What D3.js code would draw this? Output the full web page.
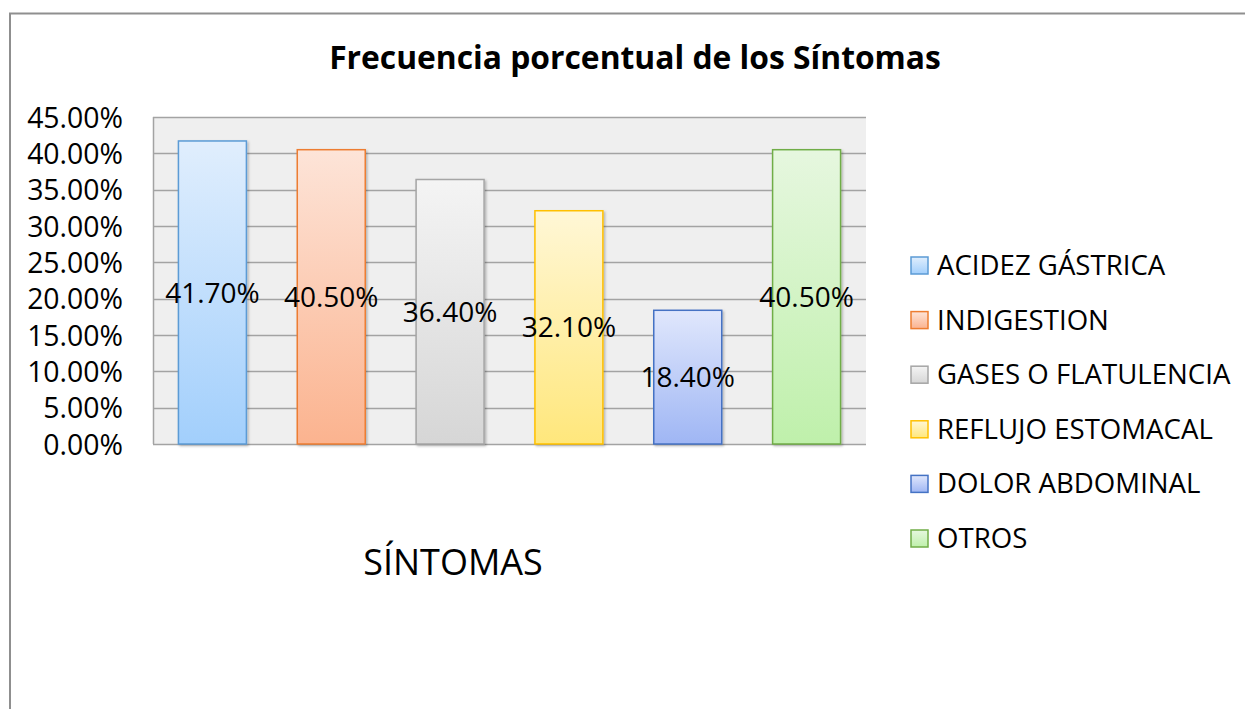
<!DOCTYPE html>
<html>
<head>
<meta charset="utf-8">
<script src="https://cdn.jsdelivr.net/npm/d3@7"></script>
<style>
  body { margin: 0; background: #fff; }
  text { font-family: "Open Sans", "Noto Sans", sans-serif; fill: #000; }
</style>
</head>
<body>
<div id="host"><svg><defs></defs></svg></div>
<script>
const WIDTH = 1245;
const HEIGHT = 709;

const CATEGORIES = [
  "ACIDEZ GÁSTRICA",
  "INDIGESTION",
  "GASES O FLATULENCIA",
  "REFLUJO ESTOMACAL",
  "DOLOR ABDOMINAL",
  "OTROS",
];
const VALUES = [0.417, 0.405, 0.364, 0.321, 0.184, 0.405];
const Y_TICKS = [0, 0.05, 0.1, 0.15, 0.2, 0.25, 0.3, 0.35, 0.4, 0.45];

const TITLE = "Frecuencia porcentual de los Síntomas";
const X_TITLE = "SÍNTOMAS";

// top colour, bottom colour, outline
const FILLS = [
  ["#e0eefd", "#a2cffc", "#5b9bd5"],
  ["#fde4d8", "#fbb38f", "#ed7d31"],
  ["#f4f4f4", "#d6d6d6", "#a5a5a5"],
  ["#fff7d6", "#ffe77c", "#ffc000"],
  ["#e0e7fc", "#9fb6f4", "#4472c4"],
  ["#e6f7df", "#bff0ab", "#70ad47"],
];

const PLOT = { left: 153, right: 866, top: 117, bottom: 444 };

function setupSvg() {
  const svg = d3.select("#host svg").attr("width", WIDTH).attr("height", HEIGHT);
  const defs = svg.select("defs");

  FILLS.forEach((f, i) => {
    const g = defs
      .append("linearGradient")
      .attr("id", `grad${i}`)
      .attr("x1", "0%")
      .attr("x2", "0%")
      .attr("y1", "0%")
      .attr("y2", "100%");
    g.append("stop").attr("offset", "0%").attr("stop-color", f[0]);
    g.append("stop").attr("offset", "100%").attr("stop-color", f[1]);
  });

  defs
    .append("filter")
    .attr("id", "shadow")
    .attr("x", "-20%")
    .attr("y", "-20%")
    .attr("width", "140%")
    .attr("height", "140%")
    .append("feDropShadow")
    .attr("dx", 1.5)
    .attr("dy", 1.5)
    .attr("stdDeviation", 1.2)
    .attr("flood-color", "#000")
    .attr("flood-opacity", 0.25);

  return svg;
}

function draw(svg) {
  // outer chart frame (runs off the page right and bottom)
  svg
    .append("rect")
    .attr("x", 10)
    .attr("y", 13.5)
    .attr("width", 1400)
    .attr("height", 900)
    .attr("fill", "#fff")
    .attr("stroke", "#8f8f8f")
    .attr("stroke-width", 2);

  const x = d3
    .scaleBand()
    .domain(CATEGORIES)
    .range([PLOT.left, PLOT.right])
    .paddingInner(0.428)
    .paddingOuter(0.214);

  const y = d3
    .scaleLinear()
    .domain([0, 0.45])
    .range([PLOT.bottom, PLOT.top]);

  svg
    .append("rect")
    .attr("x", PLOT.left)
    .attr("y", PLOT.top)
    .attr("width", PLOT.right - PLOT.left)
    .attr("height", PLOT.bottom - PLOT.top)
    .attr("fill", "#efefef");

  // gridlines
  svg
    .append("g")
    .selectAll("line")
    .data(Y_TICKS)
    .join("line")
    .attr("x1", PLOT.left)
    .attr("x2", PLOT.right)
    .attr("y1", (d) => Math.round(y(d)) + 0.5)
    .attr("y2", (d) => Math.round(y(d)) + 0.5)
    .attr("stroke", "#a3a3a3")
    .attr("stroke-width", 1.5);

  svg
    .append("line")
    .attr("x1", PLOT.left + 0.5)
    .attr("x2", PLOT.left + 0.5)
    .attr("y1", PLOT.top)
    .attr("y2", PLOT.bottom)
    .attr("stroke", "#a3a3a3")
    .attr("stroke-width", 1.5);

  // y axis labels
  const yAxis = svg
    .append("g")
    .attr("transform", `translate(${PLOT.left - 30},0)`)
    .call(d3.axisLeft(y).tickValues(Y_TICKS).tickFormat(d3.format(".2%")).tickSize(0).tickPadding(0));
  yAxis.select(".domain").remove();
  yAxis
    .selectAll("text")
    .attr("font-size", 28.4)
    .attr("font-family", "Open Sans")
    .attr("fill", "#000")
    .attr("dy", "0.36em");

  // bars
  svg
    .append("g")
    .selectAll("rect")
    .data(VALUES)
    .join("rect")
    .attr("x", (d, i) => x(CATEGORIES[i]))
    .attr("y", (d) => y(d))
    .attr("width", x.bandwidth())
    .attr("height", (d) => y(0) - y(d))
    .attr("fill", (d, i) => `url(#grad${i})`)
    .attr("stroke", (d, i) => FILLS[i][2])
    .attr("stroke-width", 1.5)
    .attr("filter", "url(#shadow)");

  // value labels
  svg
    .append("g")
    .selectAll("text")
    .data(VALUES)
    .join("text")
    .attr("x", (d, i) => x(CATEGORIES[i]) + x.bandwidth() / 2)
    .attr("y", (d) => (y(d) + y(0)) / 2)
    .attr("dy", "0.36em")
    .attr("text-anchor", "middle")
    .attr("font-size", 28)
    .text((d) => d3.format(".2%")(d));

  // titles
  svg
    .append("text")
    .attr("x", 635)
    .attr("y", 69)
    .attr("text-anchor", "middle")
    .attr("font-size", 31.8)
    .attr("font-weight", "bold")
    .text(TITLE);

  svg
    .append("text")
    .attr("x", 453)
    .attr("y", 575)
    .attr("text-anchor", "middle")
    .attr("font-size", 36)
    .text(X_TITLE);

  // legend
  const legend = svg
    .append("g")
    .selectAll("g")
    .data(CATEGORIES)
    .join("g")
    .attr("transform", (d, i) => `translate(911,${265 + i * 54.6})`);

  legend
    .append("rect")
    .attr("x", 0)
    .attr("y", -8)
    .attr("width", 17)
    .attr("height", 17)
    .attr("fill", (d, i) => `url(#grad${i})`)
    .attr("stroke", (d, i) => FILLS[i][2])
    .attr("stroke-width", 1.5);

  legend
    .append("text")
    .attr("x", 26)
    .attr("y", 0)
    .attr("dy", "0.36em")
    .attr("font-size", 27.6)
    .text((d) => d);
}

const svg = setupSvg();
draw(svg);
</script>
</body>
</html>
